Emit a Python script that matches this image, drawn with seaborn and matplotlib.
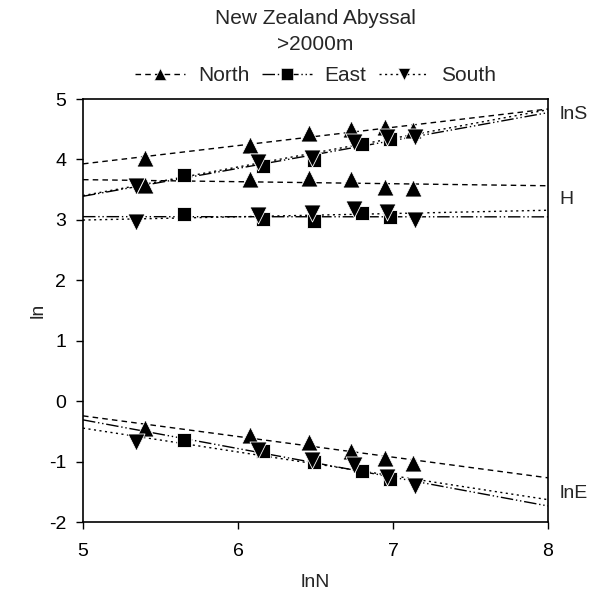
import numpy as np
import pandas as pd
import matplotlib
matplotlib.use("Agg")
import matplotlib.pyplot as plt
from matplotlib.lines import Line2D
import seaborn as sns

sns.set_style("white")
plt.rcParams["font.family"] = ["Liberation Sans", "DejaVu Sans"]
plt.rcParams["axes.unicode_minus"] = False

# lnN of each sampling site per region
north_lnN = [5.40, 6.08, 6.46, 6.73, 6.95, 7.13]
east_lnN = [5.65, 6.16, 6.49, 6.80, 6.98]
south_lnN = [5.34, 6.13, 6.48, 6.75, 6.96, 7.14]

# lnS (species richness)
north_lnS = [4.02, 4.24, 4.43, 4.50, 4.53, 4.49]
east_lnS = [3.74, 3.89, 3.99, 4.26, 4.34]
south_lnS = [3.56, 3.96, 4.03, 4.29, 4.37, 4.37]

# H (Shannon diversity)
north_H = [3.58, 3.68, 3.70, 3.67, 3.55, 3.52]
east_H = [3.09, 3.02, 2.98, 3.12, 3.05]
south_H = [2.97, 3.08, 3.11, 3.18, 3.13, 2.99]

# lnE (evenness)
north_lnE = [-0.44, -0.56, -0.67, -0.82, -0.94, -1.02]
east_lnE = [-0.65, -0.82, -1.00, -1.16, -1.28]
south_lnE = [-0.67, -0.80, -0.97, -1.05, -1.25, -1.41]

regions = ["North", "East", "South"]
metrics = ["lnS", "H", "lnE"]
series = {
    "North": (north_lnN, {"lnS": north_lnS, "H": north_H, "lnE": north_lnE}),
    "East": (east_lnN, {"lnS": east_lnS, "H": east_H, "lnE": east_lnE}),
    "South": (south_lnN, {"lnS": south_lnS, "H": south_H, "lnE": south_lnE}),
}

rows = []
for reg in regions:
    xs, vals = series[reg]
    for m in metrics:
        for x, y in zip(xs, vals[m]):
            rows.append({"region": reg, "metric": m, "lnN": x, "value": y})
df = pd.DataFrame(rows)

markers = {"North": "^", "East": "s", "South": "v"}
msize = {"North": 150, "East": 95, "South": 150}
dashes = {"North": (4, 3), "East": (9, 2, 1, 2, 1, 2), "South": (1.5, 2.5)}

fig = plt.figure(figsize=(6.07, 5.93), dpi=100)
ax = fig.add_axes([0.1367, 0.1197, 0.7661, 0.7133])

xfit = np.array([5.0, 8.0])
for reg in regions:
    sub = df[df.region == reg]
    for m in metrics:
        s = sub[sub.metric == m]
        k, b = np.polyfit(s.lnN, s.value, 1)
        ax.plot(xfit, k * xfit + b, color="black", lw=1.0,
                dashes=dashes[reg], zorder=2)
    sns.scatterplot(data=sub, x="lnN", y="value", marker=markers[reg],
                    s=msize[reg], color="black", edgecolor="white",
                    linewidth=0.6, ax=ax, zorder=3, legend=False)

ax.set_xlim(5, 8)
ax.set_ylim(-2, 5)
ax.set_xticks([5, 6, 7, 8])
ax.set_yticks(range(-2, 6))
ax.tick_params(axis="both", which="major", labelsize=14, length=5,
               width=1, direction="out", bottom=True, left=True,
               colors="black", pad=6)
ax.tick_params(axis="x", pad=10)
ax.tick_params(axis="y", pad=7)
for sp in ax.spines.values():
    sp.set_color("black")
    sp.set_linewidth(1.2)
ax.set_xlabel("lnN", fontsize=14, labelpad=10)
ax.set_ylabel("ln", fontsize=14, labelpad=2)

# metric names on the right side
for name, yv in [("lnS", 4.75), ("H", 3.33), ("lnE", -1.53)]:
    ax.text(1.025, (yv + 2) / 7, name, transform=ax.transAxes,
            fontsize=14, va="center", ha="left")

fig.text(0.52, 0.968, "New Zealand Abyssal", ha="center", va="center",
         fontsize=15)
fig.text(0.52, 0.925, ">2000m", ha="center", va="center", fontsize=15)

handles = [
    Line2D([0], [0], color="black", lw=1.0, dashes=dashes[r],
           marker=markers[r], markersize=9 if r != "East" else 8,
           markeredgecolor="white", markeredgewidth=0.4)
    for r in regions
]
fig.legend(handles, regions, loc="center", bbox_to_anchor=(0.52, 0.873),
           ncol=3, frameon=False, fontsize=15, handlelength=2.4,
           handletextpad=0.6, columnspacing=0.6)

fig.savefig("out.png", dpi=100)
